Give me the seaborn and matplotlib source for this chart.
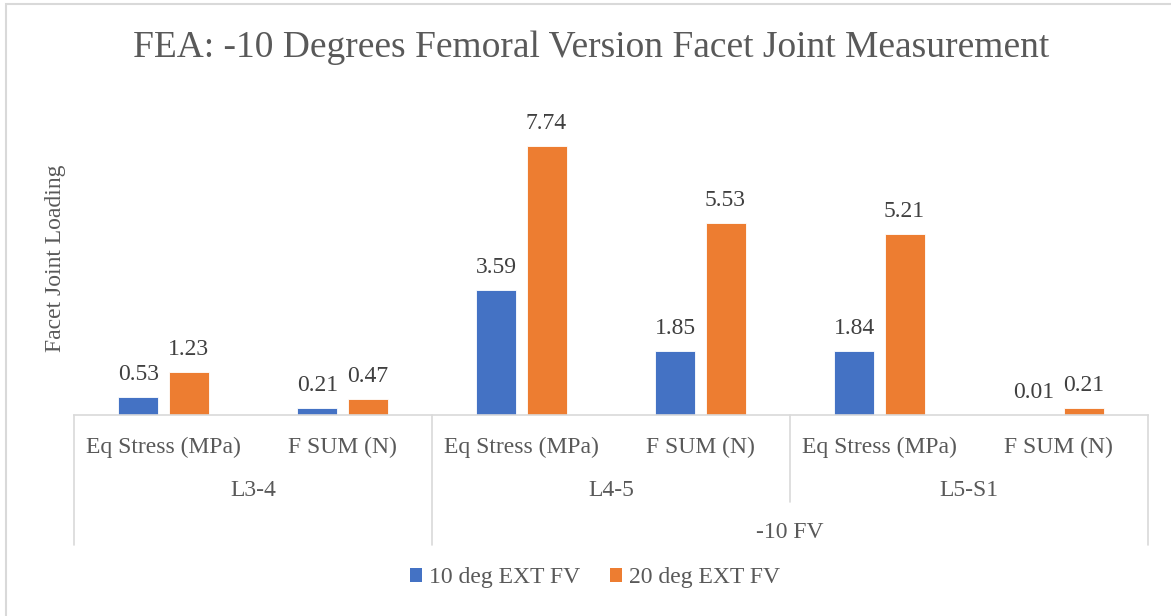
import matplotlib
matplotlib.use("Agg")
import matplotlib.pyplot as plt
import matplotlib.transforms as mtransforms
from matplotlib.lines import Line2D
from matplotlib.patches import Rectangle, Patch
import seaborn as sns
import pandas as pd

# ---- data ----
measures = ["Eq Stress (MPa)", "F SUM (N)"]
levels = ["L3-4", "L4-5", "L5-S1"]
group_label = "-10 FV"
series_names = ["10 deg EXT FV", "20 deg EXT FV"]
ext10 = [0.53, 0.21, 3.59, 1.85, 1.84, 0.01]
ext20 = [1.23, 0.47, 7.74, 5.53, 5.21, 0.21]

title = "FEA: -10 Degrees Femoral Version Facet Joint Measurement"
ylabel = "Facet Joint Loading"

colors = ["#4472C4", "#ED7D31"]
text_gray = "#595959"
label_gray = "#404040"
line_gray = "#D9D9D9"

# ---- tidy frame ----
slots = [f"{lv}|{m}" for lv in levels for m in measures]
df = pd.DataFrame({
    "slot": slots * 2,
    "value": ext10 + ext20,
    "series": [series_names[0]] * len(slots) + [series_names[1]] * len(slots),
})

sns.set_theme(style="white")
plt.rcParams["font.family"] = ["Liberation Serif", "DejaVu Serif"]

W, H = 1171, 616
fig = plt.figure(figsize=(W / 100, H / 100), dpi=100)
ax = fig.add_axes([74 / W, 201 / H, (1148 - 74) / W, 313 / H])

sns.barplot(data=df, x="slot", y="value", hue="series", order=slots,
            hue_order=series_names, palette=colors, width=0.56, gap=0.2,
            saturation=1, ax=ax, legend=False, edgecolor="white", linewidth=0.6)

for cont in ax.containers:
    ax.bar_label(cont, fmt="%.2f", padding=8.5, fontsize=17, color=label_gray)

ax.set_xlim(-0.5, len(slots) - 0.5)
ax.set_ylim(0, 9)
ax.set_xticks([])
ax.set_yticks([])
ax.set_xlabel("")
ax.set_ylabel("")
for side in ["top", "left", "right"]:
    ax.spines[side].set_visible(False)
ax.spines["bottom"].set_color(line_gray)
ax.spines["bottom"].set_linewidth(1.2)

# ---- multi-level category axis ----
trans = mtransforms.blended_transform_factory(ax.transData, fig.transFigure)

def fy(px):
    return 1 - px / H

for i, s in enumerate(slots):
    ax.text(i, fy(447), s.split("|")[1], transform=trans, ha="center",
            va="center", fontsize=17, color=text_gray)
for j, lv in enumerate(levels):
    ax.text(2 * j + 0.5, fy(490), lv, transform=trans, ha="center",
            va="center", fontsize=17, color=text_gray)
ax.text(3.5, fy(532), group_label, transform=trans, ha="center",
        va="center", fontsize=17, color=text_gray)

for xv, bottom in [(-0.5, 545), (1.5, 545), (3.5, 502), (5.5, 545)]:
    ax.add_line(Line2D([xv, xv], [fy(415), fy(bottom)], transform=trans,
                       color=line_gray, lw=1.2, clip_on=False))

# ---- titles ----
fig.text(591 / W, fy(48), title, ha="center", va="center", fontsize=27,
         color=text_gray)
fig.text(55 / W, fy(258), ylabel, ha="center", va="center", rotation=90,
         fontsize=17, color=text_gray)

# ---- legend ----
leg_handles = [Patch(facecolor=c, edgecolor="none") for c in colors]
fig.legend(leg_handles, series_names, loc="center",
           bbox_to_anchor=(595 / W, fy(578)), ncol=2, frameon=False,
           fontsize=17, handlelength=0.5, handleheight=0.5,
           handletextpad=0.3, columnspacing=1.3, labelcolor=text_gray)

# ---- chart border ----
fig.patches.append(Rectangle((6 / W, -0.1), 2, 1 - 4 / H + 0.1,
                             transform=fig.transFigure, fill=False,
                             edgecolor=line_gray, lw=1.5))

fig.savefig("out.png", dpi=100)
